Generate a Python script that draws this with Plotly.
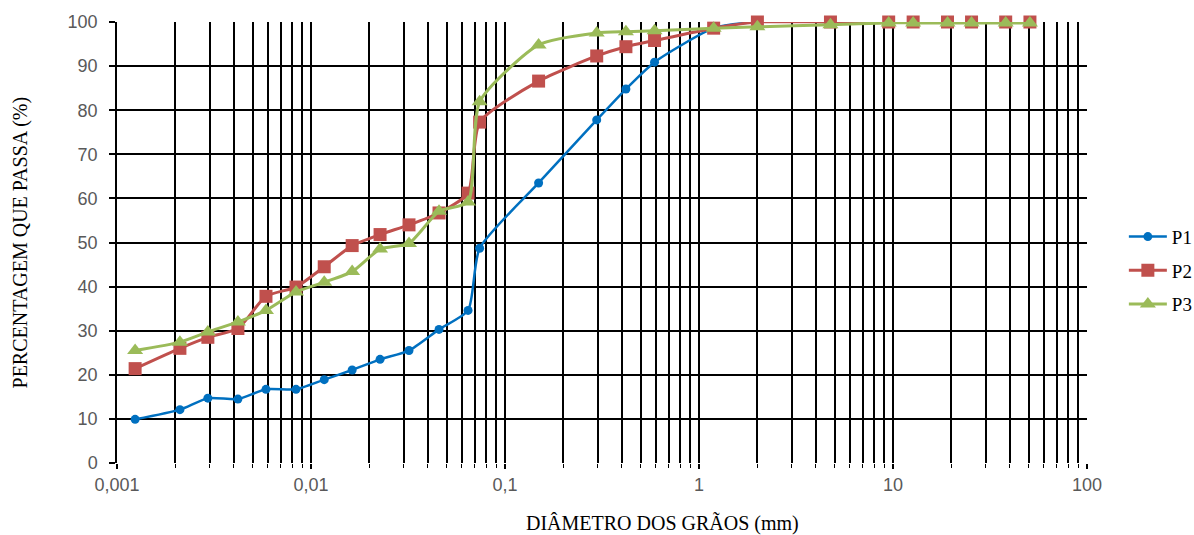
import plotly.graph_objects as go

# Grain diameters (mm)
d_p1 = [0.00124, 0.00211, 0.00294, 0.0042, 0.00586, 0.00837, 0.0117, 0.0163, 0.0227, 0.032, 0.0457, 0.0645,
        0.074, 0.149, 0.297, 0.42, 0.59, 1.19, 2.0, 4.76, 9.5, 12.7, 19.1, 25.4, 38.1, 50.8]
p1 = [9.9, 12.1, 14.7, 14.5, 16.7, 16.7, 18.9, 21.1, 23.5, 25.5, 30.3, 34.6,
      48.7, 63.5, 77.8, 84.8, 90.9, 98.6, 100, 100, 100, 100, 100, 100, 100, 100]

d_p2 = [0.00124, 0.00211, 0.00294, 0.0042, 0.00586, 0.00837, 0.0117, 0.0163, 0.0227, 0.032, 0.0457, 0.0645,
        0.074, 0.149, 0.297, 0.42, 0.59, 1.19, 2.0, 4.76, 9.5, 12.7, 19.1, 25.4, 38.1, 50.8]
p2 = [21.4, 26.0, 28.5, 30.5, 37.8, 39.9, 44.5, 49.3, 51.8, 54.0, 56.7, 61.2,
      77.3, 86.6, 92.3, 94.4, 95.8, 98.6, 100, 100, 100, 100, 100, 100, 100, 100]

d_p3 = [0.00124, 0.00211, 0.00294, 0.0042, 0.00586, 0.00837, 0.0117, 0.0163, 0.0227, 0.032, 0.0457, 0.0645,
        0.074, 0.149, 0.297, 0.42, 0.59, 1.19, 2.0, 4.76, 9.5, 12.7, 19.1, 25.4, 38.1, 50.8]
p3 = [25.5, 27.4, 29.7, 32.0, 34.6, 38.8, 41.0, 43.4, 48.5, 49.8, 57.1, 59.2,
      81.9, 94.8, 97.5, 97.8, 98.0, 98.6, 98.9, 99.4, 99.8, 99.8, 99.8, 99.8, 99.8, 99.8]

x_major = [0.001, 0.01, 0.1, 1, 10, 100]
x_major_text = ["0,001", "0,01", "0,1", "1", "10", "100"]
x_minor = [m * 10 ** e for e in range(-3, 2) for m in range(2, 10)]
y_ticks = list(range(0, 101, 10))

fig = go.Figure()
fig.add_trace(go.Scatter(x=d_p1, y=p1, name="P1", mode="lines+markers", line_shape="spline",
                         line=dict(color="#0070C0", width=2.5, smoothing=0.6),
                         marker=dict(symbol="circle", size=9, color="#0070C0"),
                         legendgroup="a", cliponaxis=False))
fig.add_trace(go.Scatter(x=d_p2, y=p2, name="P2", mode="lines+markers", line_shape="spline",
                         line=dict(color="#C0504D", width=3, smoothing=0.6),
                         marker=dict(symbol="square", size=13, color="#C0504D"),
                         legendgroup="b", cliponaxis=False))
fig.add_trace(go.Scatter(x=d_p3, y=p3, name="P3", mode="lines+markers", line_shape="spline",
                         line=dict(color="#9BBB59", width=3, smoothing=0.6),
                         marker=dict(symbol="triangle-up", size=14, color="#9BBB59"),
                         legendgroup="c", cliponaxis=False))

tickfont = dict(family="Liberation Sans, Arial", size=18, color="#595959")
serif = "Liberation Serif, Times New Roman"

fig.update_layout(
    width=1194, height=535,
    margin=dict(l=117, r=107, t=22, b=72, autoexpand=False),
    plot_bgcolor="white", paper_bgcolor="white",
    showlegend=True,
    legend=dict(x=1.038, y=0.436, xanchor="left", yanchor="middle",
                font=dict(family=serif, size=19, color="#000000"),
                tracegroupgap=6, itemwidth=38, bgcolor="rgba(0,0,0,0)"),
    xaxis=dict(type="log", range=[-3, 2], tickmode="array", tickvals=x_major, ticktext=x_major_text,
               showgrid=True, gridcolor="#000000", gridwidth=1.5,
               ticks="outside", ticklen=5, tickcolor="#000000", tickwidth=1.5,
               tickfont=tickfont, showline=False, zeroline=False,
               minor=dict(tickmode="array", tickvals=x_minor, showgrid=True, gridcolor="#000000",
                          gridwidth=1.5, ticks="outside", ticklen=4, tickcolor="#000000", tickwidth=1)),
    yaxis=dict(range=[0, 100], tickmode="array", tickvals=y_ticks,
               showgrid=True, gridcolor="#000000", gridwidth=1.5,
               ticks="outside", ticklen=6, tickcolor="#000000", tickwidth=1.5, ticklabelstandoff=8,
               tickfont=tickfont, zeroline=False, showline=True, linecolor="#000000", linewidth=1.5),
    annotations=[
        dict(text="DIÂMETRO DOS GRÃOS (mm)", xref="paper", yref="paper", x=0.562, y=-0.135,
             xanchor="center", yanchor="middle", showarrow=False,
             font=dict(family=serif, size=20, color="#000000")),
        dict(text="PERCENTAGEM QUE PASSA (%)", xref="paper", yref="paper", x=-0.099, y=0.5,
             xanchor="center", yanchor="middle", showarrow=False, textangle=-90,
             font=dict(family=serif, size=20, color="#000000")),
    ],
)

fig.write_html("out.html")
